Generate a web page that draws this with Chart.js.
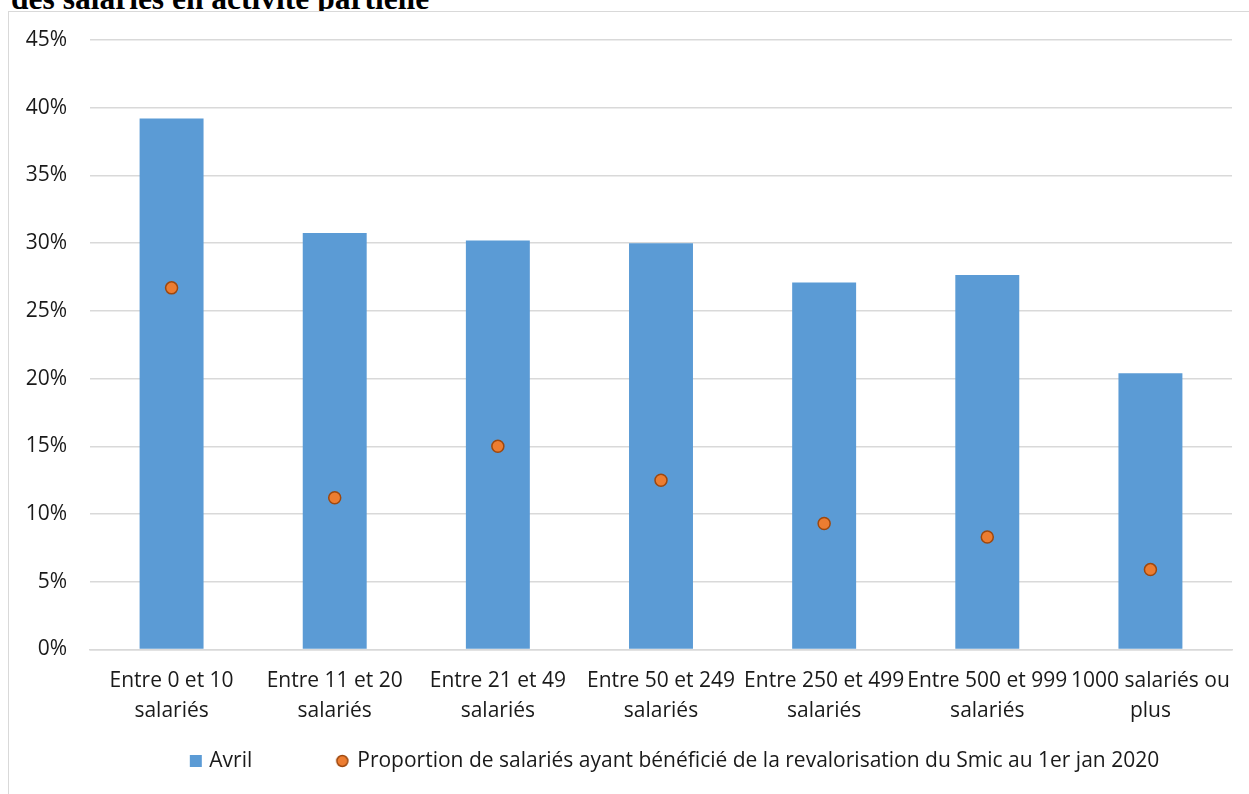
<!DOCTYPE html>
<html>
<head>
<meta charset="utf-8">
<script src="https://cdn.jsdelivr.net/npm/chart.js@4.4.1/dist/chart.umd.min.js"></script>
<style>
  html, body { margin: 0; padding: 0; background: #fff; overflow: hidden; }
  #titre { position: absolute; left: 11px; top: -17px; font: bold 31.5px/31px "Liberation Serif", "Times New Roman", serif; color: #000; white-space: nowrap; z-index: 0; }
  #cadre { position: absolute; left: 8px; top: 11px; width: 1300px; height: 900px; border-left: 1px solid #d9d9d9; border-top: 1px solid #d9d9d9; background: #fff; z-index: 1; }
  #zone { position: absolute; left: 0; top: 0; width: 1274px; height: 794px; z-index: 2; }
</style>
</head>
<body>
<div id="titre">des salariés en activité partielle</div>
<div id="cadre"></div>
<div id="zone"><canvas id="graphique" width="1274" height="794"></canvas></div>
<script>
// données (en %)
const categories = [
  ["Entre 0 et 10", "salariés"],
  ["Entre 11 et 20", "salariés"],
  ["Entre 21 et 49", "salariés"],
  ["Entre 50 et 249", "salariés"],
  ["Entre 250 et 499", "salariés"],
  ["Entre 500 et 999", "salariés"],
  ["1000 salariés ou", "plus"]
];
const avril = [39.2, 30.75, 30.2, 30.0, 27.1, 27.65, 20.4];
const revalo = [26.7, 11.2, 15.0, 12.5, 9.3, 8.3, 5.9];
const nomAvril = "Avril";
const nomRevalo = "Proportion de salariés ayant bénéficié de la revalorisation du Smic au 1er jan 2020";

const bleu = "#5b9bd5";
const orange = "#ed7d31";
const brun = "#9e480e";
const police = "'Open Sans', 'Noto Sans', sans-serif";

// pastilles de légende : image plus large que la case, centrée dessus
const largeurCase = 84;
function pastille(forme) {
  const c = document.createElement("canvas");
  c.width = largeurCase + 20; c.height = 16;
  const g = c.getContext("2d");
  const texte = largeurCase + 20.5; // début du texte, dans l'image
  if (forme === "carre") {
    g.fillStyle = bleu;
    g.fillRect(Math.round(texte - 20), 2, 12, 12);
  } else {
    g.beginPath();
    g.arc(texte - 15, 8, 5.5, 0, Math.PI * 2);
    g.fillStyle = orange; g.fill();
    g.lineWidth = 1.5; g.strokeStyle = brun; g.stroke();
  }
  return c;
}
const pastilles = [pastille("carre"), pastille("rond")];

new Chart(document.getElementById("graphique"), {
  data: {
    labels: categories,
    datasets: [
      {
        type: "bar",
        label: nomAvril,
        data: avril,
        backgroundColor: bleu,
        barPercentage: 0.392,
        categoryPercentage: 1,
        order: 1
      },
      {
        type: "line",
        label: nomRevalo,
        data: revalo,
        showLine: false,
        pointRadius: 6,
        pointBackgroundColor: orange,
        pointBorderColor: brun,
        pointBorderWidth: 1.5,
        order: 0
      }
    ]
  },
  options: {
    responsive: false,
    animation: false,
    layout: { padding: { top: 40, right: 0, left: 0, bottom: 12.5 } },
    plugins: {
      tooltip: { enabled: false },
      legend: {
        position: "bottom",
        labels: {
          usePointStyle: true,
          pointStyleWidth: largeurCase,
          padding: 10.5,
          color: "#1a1a1a",
          font: { family: police, size: 21 },
          generateLabels: chart => Chart.defaults.plugins.legend.labels.generateLabels(chart)
            .sort((a, b) => a.datasetIndex - b.datasetIndex)
            .map(l => Object.assign(l, { pointStyle: pastilles[l.datasetIndex] }))
        }
      }
    },
    scales: {
      x: {
        grid: { display: false, drawTicks: false },
        border: { color: "#d9d9d9", width: 1.5 },
        ticks: { color: "#1a1a1a", font: { family: police, size: 21, lineHeight: 1.4 }, padding: 17, maxRotation: 0, autoSkip: false },
        afterFit: s => { s.height = 90.5; }
      },
      y: {
        min: 0, max: 45,
        grid: { color: "#d9d9d9", lineWidth: 1.5, drawTicks: false },
        border: { display: false },
        ticks: { stepSize: 5, color: "#1a1a1a", font: { family: police, size: 21 }, padding: 23, callback: v => v + "%" },
        afterFit: s => { s.width = 90; }
      },
      // axe vide à droite : marge entre la zone de tracé et le bord du canevas
      marge: {
        position: "right",
        grid: { display: false },
        border: { display: false },
        ticks: { display: false },
        afterFit: s => { s.width = 42; }
      }
    }
  }
});
</script>
</body>
</html>
